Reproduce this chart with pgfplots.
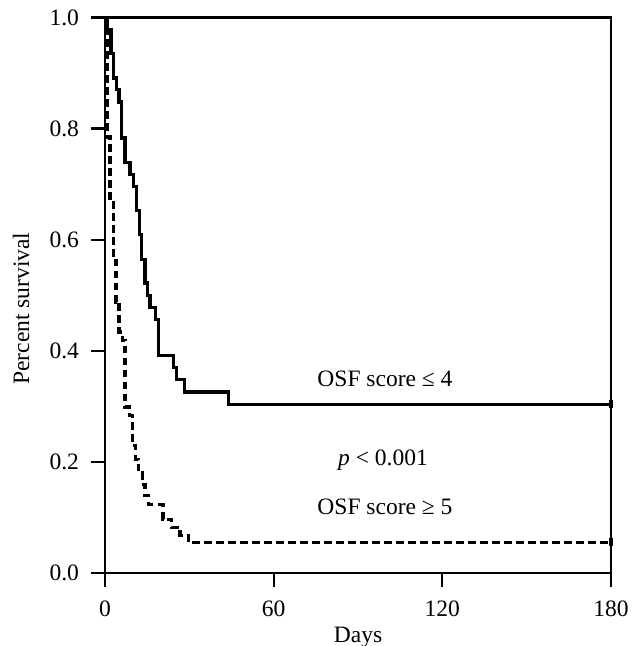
\documentclass[border=0pt]{standalone}
\usepackage{fontspec}
\setmainfont{Liberation Serif}
\usepackage{pgfplots}
\pgfplotsset{compat=1.18}

\begin{document}
\fontsize{11.8}{14}\selectfont
\begin{tikzpicture}
\path[use as bounding box] (-52.5bp,-36.5bp) rectangle (263.5bp,286.5bp);
\begin{axis}[
  at={(0,0)}, anchor=south west,
  scale only axis,
  width=253bp, height=277.75bp,
  xmin=0, xmax=180, ymin=0, ymax=1.0,
  xtick={0,60,120,180},
  ytick={0,0.2,0.4,0.6,0.8,1.0},
  xtick pos=bottom, ytick pos=left,
  tick align=outside,
  major tick length=7bp,
  every tick/.style={black, line width=1.1bp},
  axis line style={line width=1.1bp},
  /pgf/number format/assume math mode=true,
  yticklabel style={/pgf/number format/fixed, /pgf/number format/fixed zerofill,
    /pgf/number format/precision=1, anchor=east, inner sep=0pt, xshift=-5.8bp},
  ticklabel style={font=\fontsize{11.8}{14}\selectfont},
  xticklabel style={anchor=north, inner sep=0pt, yshift=-6.5bp},
  xlabel={Days},
  xlabel style={at={(axis description cs:0.5,0)}, anchor=north, inner sep=0pt, yshift=-26.8bp},
  ylabel={Percent survival},
  ylabel style={at={(axis description cs:-0.166,0.476)}, anchor=center, inner sep=0pt},
  clip=false,
]
% OSF score <= 4
\addplot[black, line width=1.6bp, const plot, mark=|, mark indices={23},
  mark size=2bp, mark options={line width=1.6bp}] coordinates {
  (0,1.0)(1.0,0.978)(2.1,0.935)(3.0,0.891)(4.2,0.870)(5.0,0.848)
  (5.9,0.783)(7.1,0.739)(8.9,0.717)(10.0,0.696)(11.3,0.652)(12.2,0.609)
  (13.1,0.565)(14.2,0.522)(15.0,0.500)(16.0,0.478)(18.1,0.457)(19.0,0.391)
  (24.4,0.370)(25.4,0.348)(28.2,0.326)(43.9,0.304)(180,0.304)
};
% OSF score >= 5
\addplot[black, line width=1.6bp, dash pattern=on 3.8bp off 2.2bp, const plot,
  mark=|, mark indices={20}, mark size=2bp, mark options={solid, line width=1.6bp}] coordinates {
  (0,1.0)(0.9,0.785)(1.8,0.675)(3.0,0.569)(3.9,0.488)(5.0,0.434)
  (6.3,0.419)(7.1,0.299)(8.6,0.284)(9.8,0.230)(10.9,0.205)(12.0,0.180)
  (13.2,0.160)(14.2,0.140)(15.6,0.123)(20.6,0.097)(23.7,0.082)(26.7,0.068)
  (29.6,0.055)(180,0.055)
};
\node[anchor=base] at (axis cs:99.6,0.335) {OSF score ≤ 4};
\node[anchor=base] at (axis cs:98.9,0.194) {\textit{p} < 0.001};
\node[anchor=base] at (axis cs:99.6,0.106) {OSF score ≥ 5};
\end{axis}
\end{tikzpicture}
\end{document}
